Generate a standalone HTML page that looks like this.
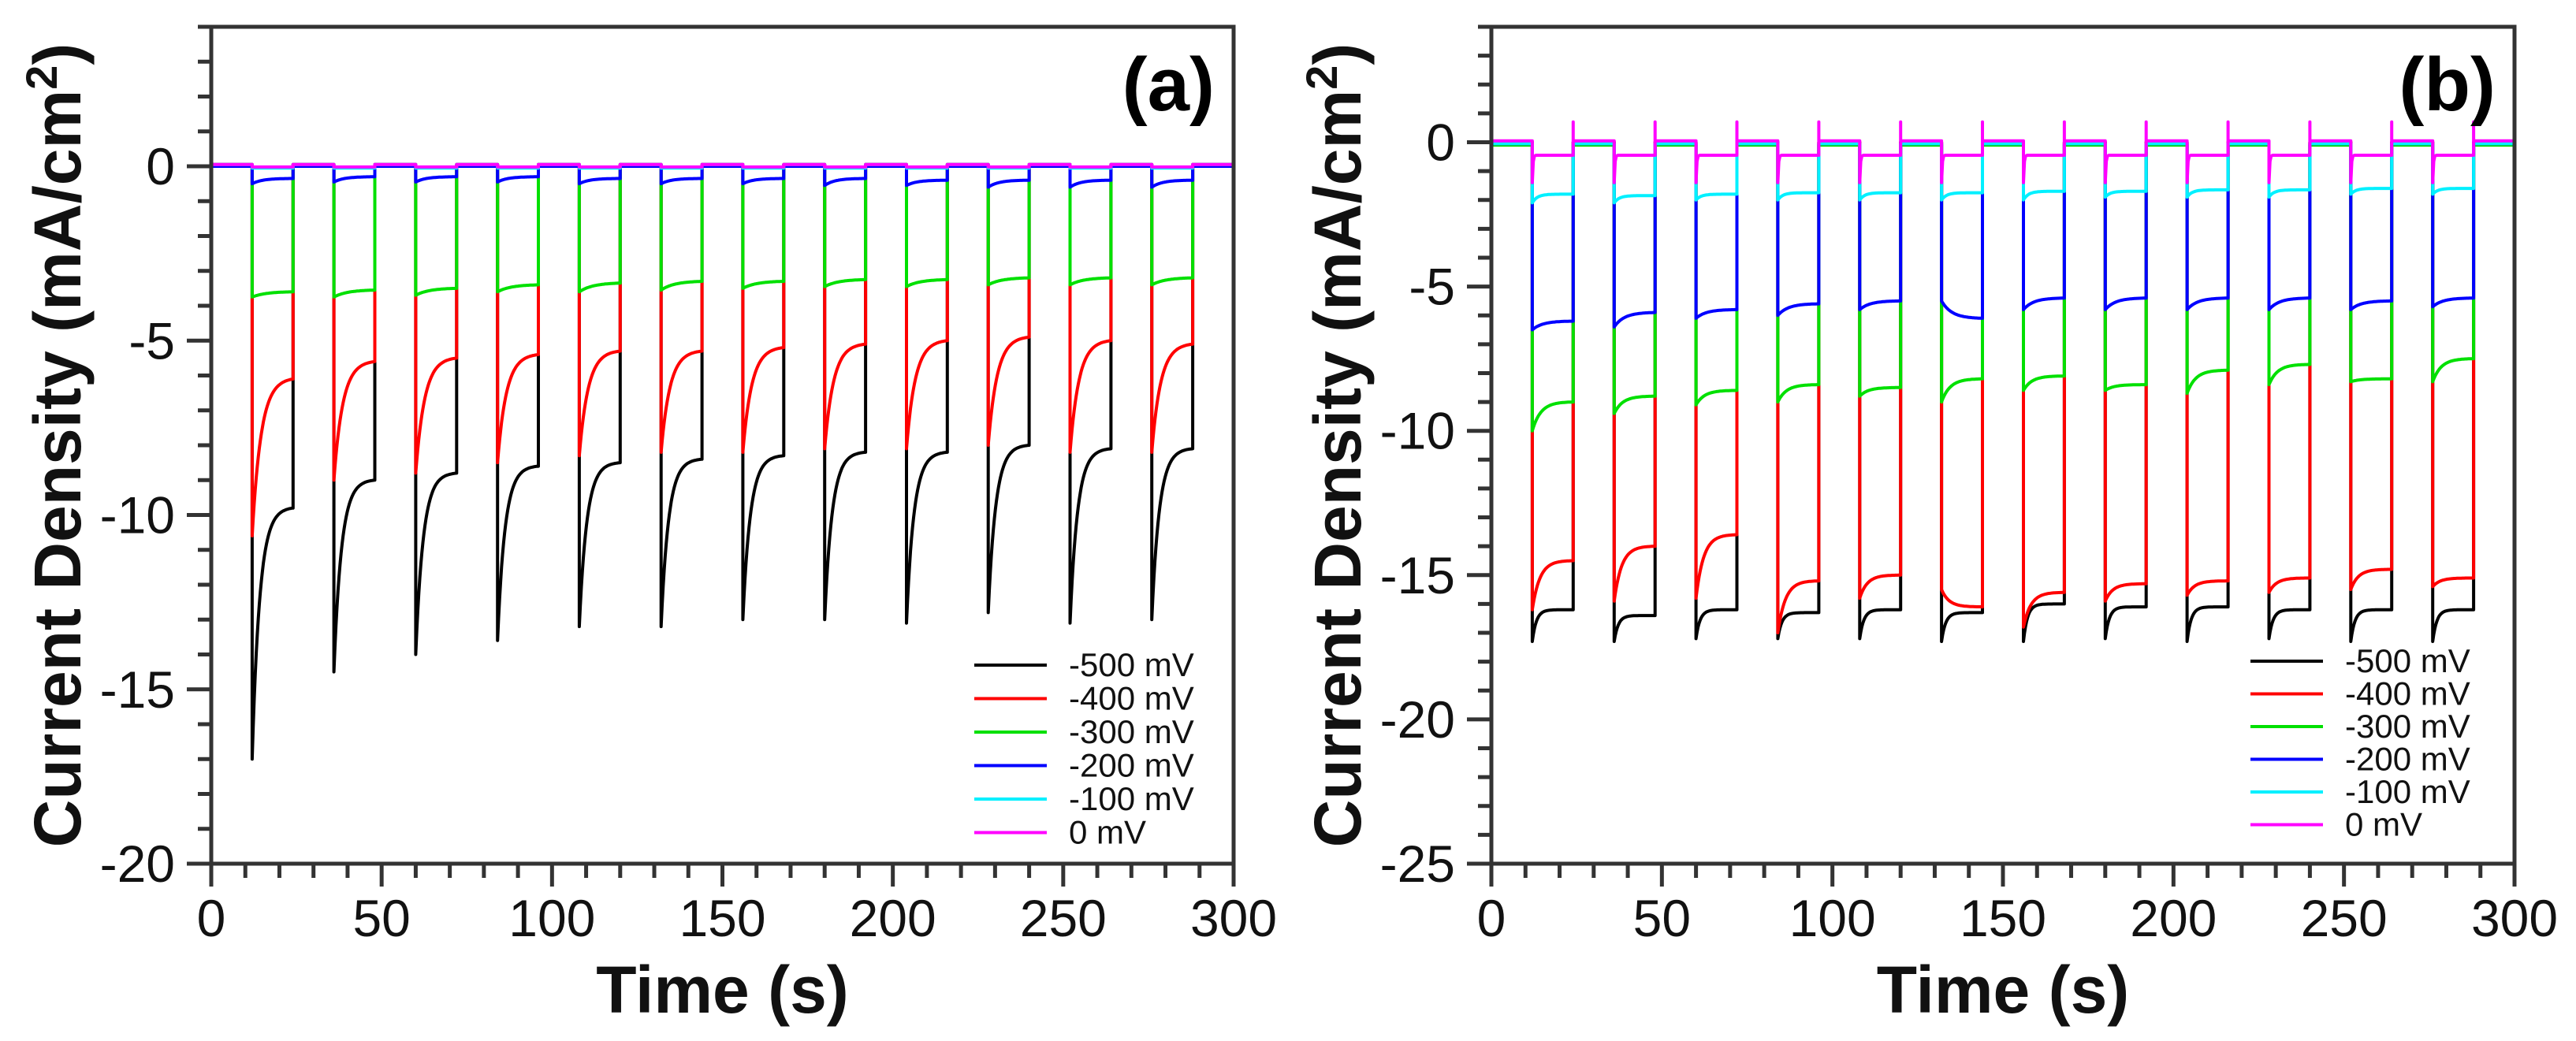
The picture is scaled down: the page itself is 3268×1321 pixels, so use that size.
<!DOCTYPE html>
<html><head><meta charset="utf-8">
<style>
html,body{margin:0;padding:0;background:#fff;}
svg{display:block;font-family:"Liberation Sans",Arial,sans-serif;}
</style></head>
<body>
<svg id="fig" width="3268" height="1321" viewBox="0 0 3268 1321" xmlns="http://www.w3.org/2000/svg"></svg>
<script>
// ---------- data ----------
const pulseStarts = [12,36,60,84,108,132,156,180,204,228,252,276];
const pulseLen = 12;
const seriesLabels = ["-500 mV","-400 mV","-300 mV","-200 mV","-100 mV","0 mV"];
const xTicks = [0,50,100,150,200,250,300];
const yTicksA = [0,-5,-10,-15,-20];
const yTicksB = [0,-5,-10,-15,-20,-25];

// panel (a): value at pulse start and at pulse end
const a500Start = [-17,-14.5,-14,-13.6,-13.2,-13.2,-13,-13,-13.1,-12.8,-13.1,-13];
const a500End   = [-9.8,-9,-8.8,-8.6,-8.5,-8.4,-8.3,-8.2,-8.2,-8.0,-8.1,-8.1];
const a400Start = [-10.6,-9,-8.8,-8.5,-8.3,-8.2,-8.2,-8.1,-8.1,-8.0,-8.2,-8.2];
const a400End   = [-6.1,-5.6,-5.5,-5.4,-5.3,-5.3,-5.2,-5.1,-5.0,-4.9,-5.0,-5.1];
const a300Start = [-3.75,-3.75,-3.7,-3.6,-3.6,-3.55,-3.5,-3.45,-3.45,-3.4,-3.4,-3.4];
const a300End   = [-3.6,-3.55,-3.5,-3.4,-3.35,-3.3,-3.3,-3.25,-3.25,-3.2,-3.2,-3.2];
const a200Start = [-0.5,-0.45,-0.45,-0.45,-0.5,-0.5,-0.5,-0.55,-0.55,-0.6,-0.6,-0.6];
const a200End   = [-0.35,-0.3,-0.3,-0.3,-0.35,-0.35,-0.35,-0.35,-0.4,-0.4,-0.4,-0.4];
const a100Start = [-0.05,-0.05,-0.05,-0.05,-0.05,-0.05,-0.05,-0.05,-0.05,-0.05,-0.05,-0.05];
const a100End   = [-0.05,-0.05,-0.05,-0.05,-0.05,-0.05,-0.05,-0.05,-0.05,-0.05,-0.05,-0.05];
const a0Start   = [-0.02,-0.02,-0.02,-0.02,-0.02,-0.02,-0.02,-0.02,-0.02,-0.02,-0.02,-0.02];
const a0End     = [-0.02,-0.02,-0.02,-0.02,-0.02,-0.02,-0.02,-0.02,-0.02,-0.02,-0.02,-0.02];
const aOff = [0.05,0.05,0.0,0.0,0.05,0.05];

// panel (b)
const b500Start = [-17.3,-17.3,-17.2,-17.2,-17.2,-17.3,-17.3,-17.2,-17.3,-17.2,-17.3,-17.3];
const b500End   = [-16.2,-16.4,-16.2,-16.3,-16.2,-16.3,-16.0,-16.1,-16.1,-16.2,-16.2,-16.2];
const b400Start = [-16.2,-15.9,-15.8,-17.0,-15.8,-15.5,-16.8,-15.9,-15.7,-15.6,-15.5,-15.4];
const b400End   = [-14.5,-14.0,-13.6,-15.2,-15.0,-16.1,-15.6,-15.3,-15.2,-15.1,-14.8,-15.1];
const b300Start = [-10.0,-9.4,-9.1,-9.0,-8.8,-9.0,-8.6,-8.6,-8.7,-8.4,-8.3,-8.3];
const b300End   = [-9.0,-8.8,-8.6,-8.4,-8.5,-8.2,-8.1,-8.4,-7.9,-7.7,-8.2,-7.5];
const b200Start = [-6.5,-6.4,-6.1,-6.0,-5.8,-5.5,-5.8,-5.8,-5.8,-5.8,-5.8,-5.7];
const b200End   = [-6.2,-5.9,-5.8,-5.6,-5.5,-6.1,-5.4,-5.4,-5.4,-5.4,-5.5,-5.4];
const b100Start = [-2.1,-2.1,-2.0,-2.0,-2.0,-2.0,-2.0,-1.9,-1.9,-1.9,-1.8,-1.8];
const b100End   = [-1.8,-1.85,-1.8,-1.75,-1.75,-1.75,-1.7,-1.7,-1.65,-1.65,-1.6,-1.6];
const b0Start   = [-1.4,-1.4,-1.4,-1.4,-1.4,-1.4,-1.4,-1.4,-1.4,-1.4,-1.4,-1.4];
const b0End     = [-0.45,-0.45,-0.45,-0.45,-0.45,-0.45,-0.45,-0.45,-0.45,-0.45,-0.45,-0.45];
const b0EndSpike = [0.7,0.7,0.7,0.7,0.7,0.7,0.7,0.7,0.7,0.7,0.7,0.7];
const bOff = [0.0,0.0,-0.1,-0.05,-0.05,0.05];

// ---------- styling ----------
const colors = ["#000000","#ff0000","#00e000","#0000ff","#00f0ff","#ff00ff"];
const NS = "http://www.w3.org/2000/svg";
const svg = document.getElementById("fig");
function el(tag, attrs, parent){
  const e = document.createElementNS(NS, tag);
  for (const k in attrs) e.setAttribute(k, attrs[k]);
  (parent||svg).appendChild(e);
  return e;
}

function drawPanel(p){
  const g = el("g", {});
  
  
  const X = v => p.L + (v - 0) / 300 * (p.R - p.L);
  const Y = v => p.T + (p.ymax - v) / (p.ymax - p.ymin) * (p.B - p.T);

  // series
  const sg = el("g", {fill:"none","stroke-width":"4","stroke-linejoin":"round"}, g);
  
  
  for (let s = 0; s < p.starts.length; s++){
    const st = p.starts[s], en = p.ends[s], off = p.off[s];
    const tau = p.taus[s];
    let pts = [[0, off]];
    for (let k = 0; k < pulseStarts.length; k++){
      const t0 = pulseStarts[k], t1 = t0 + pulseLen;
      pts.push([t0, off]);
      pts.push([t0, st[k]]);
      const N = 40;
      for (let i = 1; i <= N; i++){
        const t = t0 + pulseLen * i / N;
        const f = (1 - Math.exp(-(t - t0) / tau)) / (1 - Math.exp(-pulseLen / tau));
        pts.push([t, st[k] + (en[k] - st[k]) * f]);
      }
      if (p.endSpike && p.endSpike[s]) { pts.push([t1, p.endSpike[s][k]]); }
      pts.push([t1, off]);
    }
    pts.push([300, off]);
    const d = pts.map((q,i)=>(i?"L":"M")+X(q[0]).toFixed(1)+","+Y(q[1]).toFixed(1)).join(" ");
    const path = el("path", {d:d, stroke:colors[s]}, sg);
    
    
  }

  // frame
  const frame = el("rect", {x:p.L, y:p.T, width:p.R-p.L, height:p.B-p.T, fill:"none", stroke:"#333", "stroke-width":"5"}, g);
  
  

  // y ticks
  for (let v = p.ymin; v <= p.ymax; v++){
    const major = (v % 5 === 0);
    const t = el("line", {x1:p.L - (major?31:17), x2:p.L, y1:Y(v), y2:Y(v), stroke:"#333","stroke-width":"5"}, g);
    
    
  }
  p.yTicks.forEach(v=>{
    const tx = el("text", {x:p.L - 46, y:Y(v)+23, "text-anchor":"end","font-size":"66", fill:"#111"}, g);
    tx.textContent = String(v);
    
    
  });
  // x ticks
  for (let v = 0; v <= 300; v += 10){
    const major = (v % 50 === 0);
    const t = el("line", {x1:X(v), x2:X(v), y1:p.B, y2:p.B + (major?29:18), stroke:"#333","stroke-width":"5"}, g);
    
    
  }
  xTicks.forEach(v=>{
    const tx = el("text", {x:X(v), y:p.B+92, "text-anchor":"middle","font-size":"66", fill:"#111"}, g);
    tx.textContent = String(v);
    
    
  });
  // axis titles
  const xt = el("text", {x:(p.L+p.R)/2, y:1285, "text-anchor":"middle","font-size":"84","font-weight":"bold", fill:"#111"}, g);
  xt.textContent = "Time (s)";
  
  
  const yc = (p.T + p.B)/2;
  const yt = el("text", {x:0, y:0, transform:`translate(${p.L-166},${yc}) rotate(-90)`, "text-anchor":"middle","font-size":"84","font-weight":"bold", fill:"#111"}, g);
  yt.innerHTML = 'Current Density (mA/cm<tspan dy="-30" font-size="56">2</tspan><tspan dy="30">)</tspan>';
  
  
  // panel label
  const pl = el("text", {x:p.R - 24, y:140, "text-anchor":"end","font-size":"96","font-weight":"bold", fill:"#000"}, g);
  pl.textContent = p.label;
  
  
  // legend
  const lg = el("g", {}, g);
  
  
  seriesLabels.forEach((lab,i)=>{
    const y = p.legY + i * p.legDy;
    const ln = el("line", {x1:p.legX, x2:p.legX+92, y1:y, y2:y, stroke:colors[i], "stroke-width":"4"}, lg);
    
    
    const tx = el("text", {x:p.legX+120, y:y+14, "font-size":"42", fill:"#111"}, lg);
    tx.textContent = lab;
    
    
  });
}

drawPanel({name:"panel-a", label:"(a)", L:268, R:1565, T:34, B:1096, ymin:-20, ymax:4, yTicks:yTicksA,
  starts:[a500Start,a400Start,a300Start,a200Start,a100Start,a0Start],
  ends:[a500End,a400End,a300End,a200End,a100End,a0End],
  off:aOff, taus:[2.2,2.6,4,3,3,3],
  legX:1236, legY:844, legDy:42.5});

drawPanel({name:"panel-b", label:"(b)", L:1892, R:3190, T:34, B:1096, ymin:-25, ymax:4, yTicks:yTicksB,
  starts:[b500Start,b400Start,b300Start,b200Start,b100Start,b0Start],
  ends:[b500End,b400End,b300End,b200End,b100End,b0End],
  endSpike:[null,null,null,null,null,b0EndSpike],
  off:bOff, taus:[1.2,2.2,2.5,3,1.5,0.2],
  legX:2855, legY:839, legDy:41.5});
</script>
</body></html>
